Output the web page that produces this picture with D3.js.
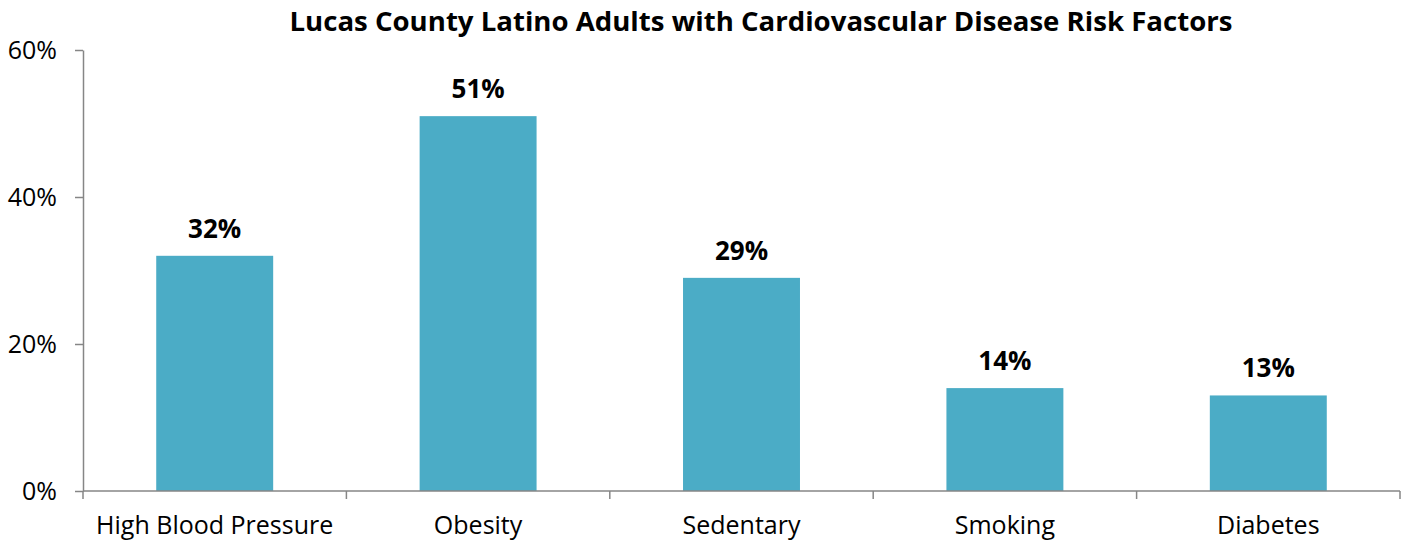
<!DOCTYPE html>
<html><head><meta charset="utf-8">
<script src="https://cdn.jsdelivr.net/npm/d3@7"></script>
<style>body{margin:0;background:#fff}svg{display:block}text{font-family:"Open Sans","Noto Sans",sans-serif}</style>
</head><body>
<script>
const categories = ["High Blood Pressure","Obesity","Sedentary","Smoking","Diabetes"];
const values = [32,51,29,14,13];
const yTicks = [0,20,40,60];
const title = "Lucas County Latino Adults with Cardiovascular Disease Risk Factors";

const W=1408,H=544;
const L=83,R=1400,T=50,B=491;
const svg=d3.select("body").append("svg").attr("width",W).attr("height",H);
const x=d3.scaleBand().domain(categories).range([L,R]).paddingInner(0.556).paddingOuter(0.278);
const y=d3.scaleLinear().domain([0,60]).range([B,T]);
const axisColor="#868686";

svg.append("text").attr("x",761).attr("y",31).attr("text-anchor","middle")
  .attr("font-size",27.5).attr("font-weight","bold").attr("fill","#000").attr("textLength",943).attr("lengthAdjust","spacingAndGlyphs").text(title);

// y axis
const ya=svg.append("g").attr("transform",`translate(${L},0)`)
  .call(d3.axisLeft(y).tickValues(yTicks).tickFormat(d=>d+"%").tickSize(8).tickSizeOuter(0).tickPadding(18));
ya.select(".domain").attr("stroke",axisColor).attr("stroke-width",1.5);
ya.selectAll(".tick line").attr("stroke",axisColor).attr("stroke-width",1.5);
ya.selectAll(".tick text").attr("font-size",25).attr("fill","#000").attr("font-family","Open Sans");

// bars
svg.selectAll("rect.bar").data(values).join("rect").attr("class","bar")
  .attr("x",(d,i)=>x(categories[i])).attr("width",x.bandwidth())
  .attr("y",d=>y(d)).attr("height",d=>B-y(d)).attr("fill","#4BACC6");

svg.selectAll("text.val").data(values).join("text").attr("class","val")
  .attr("x",(d,i)=>x(categories[i])+x.bandwidth()/2).attr("y",d=>y(d)-18)
  .attr("text-anchor","middle").attr("font-size",26).attr("font-weight","bold").attr("fill","#000")
  .text(d=>d+"%");

// x axis
const step=x.step();
const xg=svg.append("g");
xg.append("line").attr("x1",L).attr("x2",R).attr("y1",B).attr("y2",B).attr("stroke",axisColor).attr("stroke-width",1.5);
const bounds=d3.range(categories.length+1).map(i=>L+i*step);
xg.selectAll("line.tk").data(bounds).join("line").attr("class","tk")
  .attr("x1",d=>d).attr("x2",d=>d).attr("y1",B).attr("y2",B+8).attr("stroke",axisColor).attr("stroke-width",1.5);
xg.selectAll("text").data(categories).join("text")
  .attr("x",d=>x(d)+x.bandwidth()/2).attr("y",534).attr("text-anchor","middle")
  .attr("font-size",25).attr("fill","#000").text(d=>d);
</script>
</body></html>
